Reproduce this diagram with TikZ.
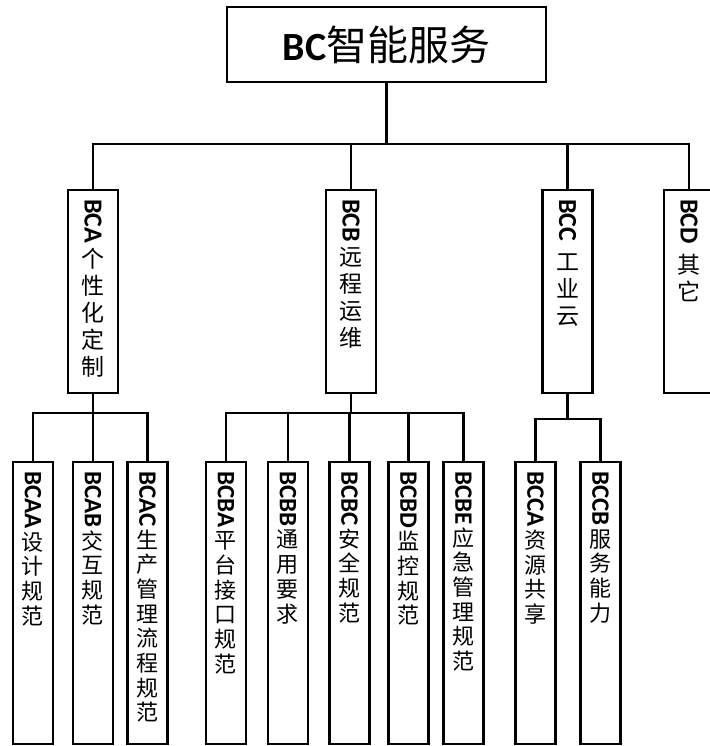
\documentclass[tikz,border=0pt]{standalone}
\usepackage{fontspec}
\setmainfont{Carlito}
\newfontfamily\cjk{Noto Sans CJK SC}
\usepackage{graphicx}
\usepackage{tikz}
\usetikzlibrary{positioning}

% texto vertical: latino girado y caracteres apilados
\newcommand{\vuno}[2]{\parbox[t][185pt][t]{46pt}{\centering
  \fontsize{23}{27}\selectfont
  \raisebox{\depth}{\rotatebox{-90}{\fontsize{26}{26}\selectfont\bfseries #1}}\\[-3pt]
  \cjk #2}}
\newcommand{\vdos}[2]{\parbox[t][264pt][t]{36pt}{\centering
  \fontsize{22}{24.7}\selectfont
  \raisebox{\depth}{\rotatebox{-90}{\fontsize{25}{25}\selectfont\bfseries #1}}\\[-3pt]
  \cjk #2}}

\tikzset{
  raiz/.style={draw, line width=2.1pt, outer sep=0pt, minimum width=319pt, minimum height=75pt, inner sep=0pt},
  nivel/.style={draw, line width=2.1pt, outer sep=0pt, inner xsep=0pt, inner ysep=9pt, minimum width=50pt},
  hoja/.style={draw, line width=2.1pt, outer sep=0pt, inner xsep=0pt, inner ysep=9pt, minimum width=40pt},
  linea/.style={line width=2.1pt}
}

\begin{document}
\begin{tikzpicture}
  \useasboundingbox (-386.5pt,44.5pt) rectangle (322.5pt,-701.5pt);

  % Nodo de arriba
  \node[raiz] (top) at (0,0) {{\fontsize{40}{40}\selectfont\bfseries BC}{\cjk\fontsize{41}{41}\selectfont 智能服务}};

  % Primer nivel
  \node[nivel, below=108pt of top, xshift=-293.5pt] (bca) {\vuno{BCA}{个\\性\\化\\定\\制}};
  \node[nivel, below=108pt of top, xshift=-35.5pt] (bcb) {\vuno{BCB}{远\\程\\运\\维}};
  \node[nivel, below=108pt of top, xshift=181pt] (bcc) {\vuno{BCC\ }{工\\业\\云}};
  \node[nivel, below=108pt of top, xshift=302.5pt] (bcd) {\vuno{BCD\ }{其\\它}};

  % Segundo nivel (colocados con xshift)
  \node[hoja, below=69pt of bca, xshift=-60pt] (bcaa) {\vdos{BCAA}{设\\计\\规\\范}};
  \node[hoja, below=69pt of bca, xshift=0pt] (bcab) {\vdos{BCAB}{交\\互\\规\\范}};
  \node[hoja, below=69pt of bca, xshift=54.5pt] (bcac) {\vdos{BCAC}{生\\产\\管\\理\\流\\程\\规\\范}};

  \node[hoja, below=69pt of bcb, xshift=-125pt] (bcba) {\vdos{BCBA}{平\\台\\接\\口\\规\\范}};
  \node[hoja, below=69pt of bcb, xshift=-63pt] (bcbb) {\vdos{BCBB}{通\\用\\要\\求}};
  \node[hoja, below=69pt of bcb, xshift=-1.5pt] (bcbc) {\vdos{BCBC}{安\\全\\规\\范}};
  \node[hoja, below=69pt of bcb, xshift=57.5pt] (bcbd) {\vdos{BCBD}{监\\控\\规\\范}};
  \node[hoja, below=69pt of bcb, xshift=112.5pt] (bcbe) {\vdos{BCBE}{应\\急\\管\\理\\规\\范}};

  \node[hoja, below=69pt of bcc, xshift=-32pt] (bcca) {\vdos{BCCA}{资\\源\\共\\享}};
  \node[hoja, below=69pt of bcc, xshift=33pt] (bccb) {\vdos{BCCB}{服\\务\\能\\力}};

  % Conexiones
  \draw[linea] (top.south) -- ++(0,-62pt) coordinate (bus);
  \draw[linea] (bca.north) |- (bus) -| (bcd.north);
  \draw[linea] (bcb.north) -- (bcb.north |- bus);
  \draw[linea] (bcc.north) -- (bcc.north |- bus);

  \draw[linea] (bca.south) -- ++(0,-20pt) coordinate (busa);
  \draw[linea] (bcaa.north) |- (busa) -| (bcac.north);
  \draw[linea] (bcab.north) -- (bcab.north |- busa);

  \draw[linea] (bcb.south) -- ++(0,-20pt) coordinate (busb);
  \draw[linea] (bcba.north) |- (busb) -| (bcbe.north);
  \draw[linea] (bcbb.north) -- (bcbb.north |- busb);
  \draw[linea] (bcbc.north) -- (bcbc.north |- busb);
  \draw[linea] (bcbd.north) -- (bcbd.north |- busb);

  \draw[linea] (bcc.south) -- ++(0,-26pt) coordinate (busc);
  \draw[linea] (bcca.north) |- (busc) -| (bccb.north);
\end{tikzpicture}
\end{document}
